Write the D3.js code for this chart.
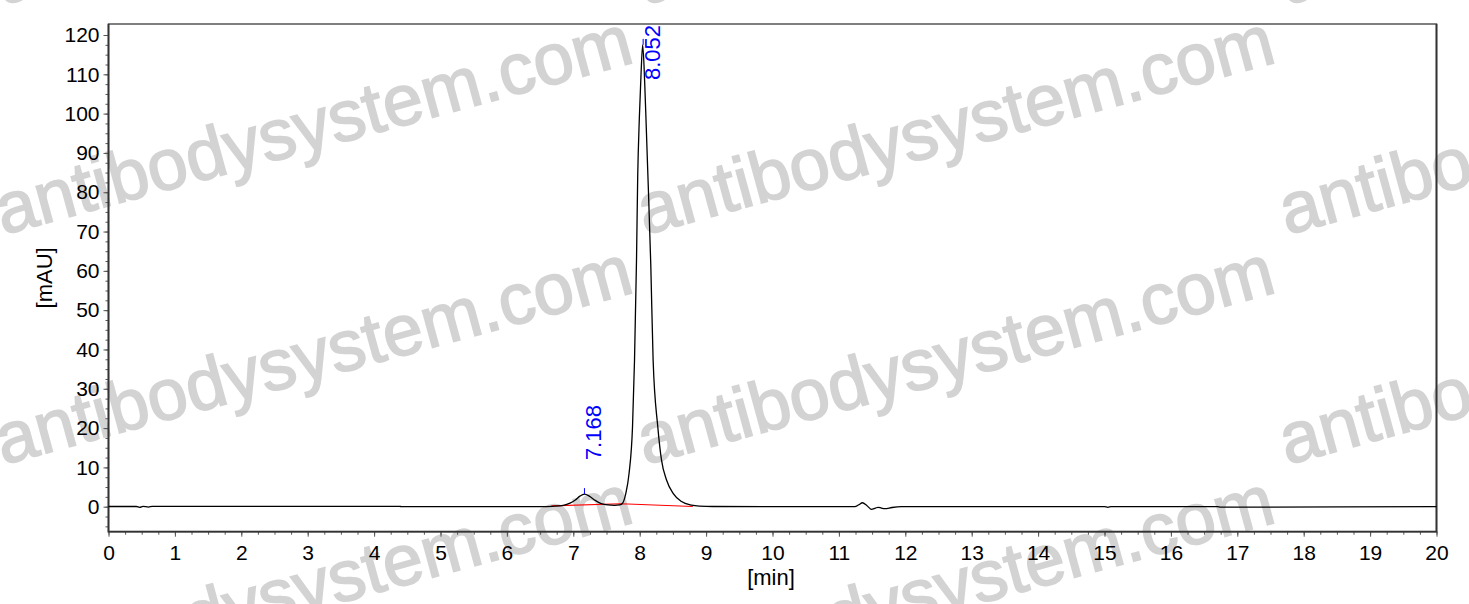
<!DOCTYPE html>
<html>
<head>
<meta charset="utf-8">
<script src="https://cdn.jsdelivr.net/npm/d3@7/dist/d3.min.js"></script>
<style>
  body { margin: 0; background: #fff; }
  svg text { font-family: Arial, "Liberation Sans", sans-serif; }
</style>
</head>
<body>
<div id="content"></div>
<script>
// chromatogram trace
var times  = [0, 0.42, 0.47, 0.52, 0.6, 0.66, 0.72, 4.38, 4.42, 6.5, 6.69, 6.85, 6.95, 7.03, 7.1, 7.168, 7.24, 7.33, 7.42, 7.52, 7.62, 7.7,
              7.741, 7.791, 7.84, 7.892, 7.922, 7.952, 7.97, 7.995, 8.02, 8.045, 8.075, 8.098, 8.12, 8.167, 8.202, 8.272, 8.328, 8.404, 8.503, 8.63, 8.78, 8.9, 9.1,
              11.24, 11.3, 11.355, 11.42, 11.49, 11.55, 11.59, 11.64, 11.69, 11.8, 11.94, 15.0, 15.05, 15.1, 16.7, 16.75, 20];
var values = [0.05, 0.05, -0.15, 0.1, -0.1, 0.1, 0.1, 0.1, 0, 0, 0.1, 0.35, 0.9, 1.7, 2.7, 3.2, 2.7, 1.6, 0.8, 0.45, 0.35, 0.45,
              0.87, 3.4, 8.5, 20.4, 37.3, 62.8, 84, 99, 110, 117.5, 108, 97, 86, 61.5, 37.3, 20.4, 11.9, 6.8, 3.4, 1.3, 0.4, 0.15, 0.05,
              0, 0.5, 1.0, 0.3, -0.66, -0.35, -0.15, -0.35, -0.5, -0.2, 0, 0, -0.15, 0, 0, -0.1, 0];

// integration baseline (red)
var baseTimes  = [6.67, 7.72, 8.80];
var baseValues = [0.2, 0.75, 0.05];

// peak labels
var peakTimes  = [7.168, 8.052];
var peakValues = [3.2, 117.5];
var peakLabels = ["7.168", "8.052"];

var xTicks = d3.range(0, 21, 1);
var yTicks = [0, 10, 20, 30, 40, 50, 60, 70, 80, 90, 100, 110, 120];

var W = 1469, H = 604;
var mLeft = 108.5, mRight = 1436.5, mTop = 24, mBottom = 531.7;

var svg = d3.select("#content").append("svg")
    .attr("width", W)
    .attr("height", H);

var x = d3.scaleLinear().domain([0, 20]).range([mLeft, mRight]);
var y = d3.scaleLinear().domain([-6.36, 122.8]).range([mBottom, mTop]);

//Watermark
var wm = svg.append("g").attr("class", "watermark");
for (var r = 0; r < 4; r++) {
  for (var c = 0; c < 3; c++) {
    wm.append("text")
      .attr("transform", "translate(" + (3 + c * 642) + "," + (5 + r * 230) + ") rotate(-15.3)")
      .attr("font-size", 72)
      .attr("fill", "#d3d3d3")
      .attr("stroke", "#d3d3d3")
      .attr("stroke-width", 1.6)
      .text("antibodysystem.com");
  }
}

//Axes
var yMinor = svg.append("g")
    .attr("transform", "translate(" + mLeft + ",0)")
    .call(d3.axisLeft(y).tickValues(d3.range(-5, 122.5, 2.5)).tickSize(3).tickFormat(""));
var yAxis = svg.append("g")
    .attr("transform", "translate(" + mLeft + ",0)")
    .call(d3.axisLeft(y).tickValues(yTicks).tickSize(5).tickPadding(4));
var xMinor = svg.append("g")
    .attr("transform", "translate(0," + mBottom + ")")
    .call(d3.axisBottom(x).tickValues(d3.range(0, 20.01, 0.25)).tickSize(3).tickFormat(""));
var xAxis = svg.append("g")
    .attr("transform", "translate(0," + mBottom + ")")
    .call(d3.axisBottom(x).tickValues(xTicks).tickSize(5).tickPadding(8));

svg.selectAll(".domain").remove();
svg.selectAll(".tick line").attr("stroke", "#555");
svg.selectAll(".tick text").attr("font-size", 21).attr("fill", "#000").attr("font-family", "Arial, 'Liberation Sans', sans-serif");

//Frame
svg.append("rect")
    .attr("x", mLeft)
    .attr("y", mTop)
    .attr("width", mRight - mLeft)
    .attr("height", mBottom - mTop)
    .attr("fill", "none")
    .attr("stroke", "#555")
    .attr("stroke-width", 1.5);
svg.append("path")
    .attr("d", "M" + mLeft + "," + mTop + "V" + mBottom + "H" + mRight + "V" + mTop)
    .attr("fill", "none")
    .attr("stroke", "#333")
    .attr("stroke-width", 1.8);

//Axis titles
svg.append("text")
    .attr("x", 771)
    .attr("y", 585)
    .attr("text-anchor", "middle")
    .attr("font-size", 22)
    .text("[min]");
svg.append("text")
    .attr("transform", "translate(52," + ((mTop + mBottom) / 2) + ") rotate(-90)")
    .attr("text-anchor", "middle")
    .attr("font-size", 22)
    .text("[mAU]");

//Trace
var pts = times.map(function(t, i) { return [t, values[i]]; });
var line = d3.line()
    .x(function(d) { return x(d[0]); })
    .y(function(d) { return y(d[1]); })
    .curve(d3.curveMonotoneX);

var basePts = baseTimes.map(function(t, i) { return [t, baseValues[i]]; });
svg.append("path")
    .attr("d", d3.line().x(function(d) { return x(d[0]); }).y(function(d) { return y(d[1]); })(basePts))
    .attr("fill", "none")
    .attr("stroke", "#ff0000")
    .attr("stroke-width", 1.2);

svg.append("path")
    .attr("d", line(pts))
    .attr("fill", "none")
    .attr("stroke", "#000")
    .attr("stroke-width", 1.3);

//Peak labels
peakTimes.forEach(function(t, i) {
  var px = x(t), py = y(peakValues[i]);
  svg.append("line")
      .attr("x1", px).attr("x2", px)
      .attr("y1", py - 6).attr("y2", py)
      .attr("stroke", "#0000ff")
      .attr("stroke-width", 1);
  var lbl = svg.append("text")
      .attr("font-size", 22)
      .attr("fill", "#0000ff")
      .text(peakLabels[i]);
  var len = lbl.node().getComputedTextLength();
  var ly = Math.max(py - 34, mTop + 1 + len);
  lbl.attr("transform", "translate(" + (px + 17) + "," + ly + ") rotate(-90)");
});
</script>
</body>
</html>
